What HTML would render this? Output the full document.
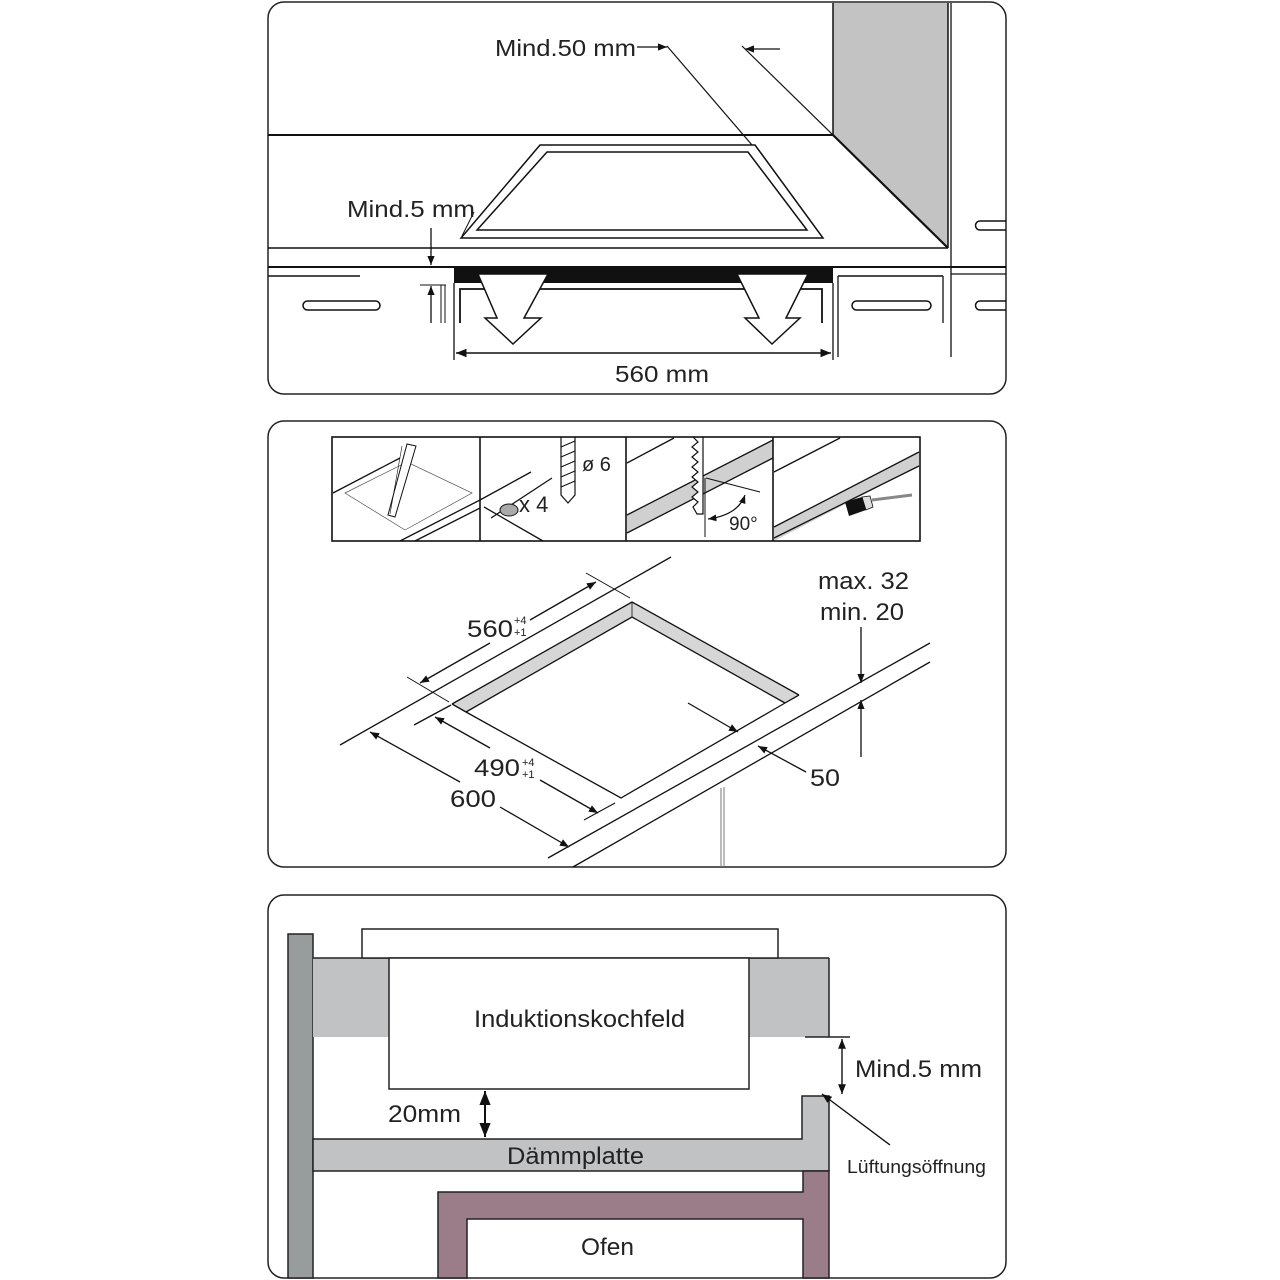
<!DOCTYPE html>
<html><head><meta charset="utf-8"><style>
html,body{margin:0;padding:0;background:#fff;}
svg{display:block;}
text{font-family:"Liberation Sans",sans-serif;fill:#222;}
</style></head><body>
<svg width="1280" height="1280" viewBox="0 0 1280 1280" xmlns="http://www.w3.org/2000/svg">
<defs>
<marker id="a" viewBox="0 0 10 10" refX="10" refY="5" markerWidth="7" markerHeight="7" orient="auto-start-reverse"><path d="M0,1 L10,5 L0,9 z" fill="#111"/></marker>
</defs>
<g fill="none" stroke="#222" stroke-width="1.5">
<rect x="268" y="2" width="738" height="392" rx="16"/>
<rect x="268" y="421" width="738" height="446" rx="16"/>
<rect x="268" y="895" width="738" height="383" rx="16"/>
</g>

<!-- ===== TOP PANEL ===== -->
<polygon points="833,3 948,3 948,248 833,135" fill="#c3c3c3"/>
<g stroke="#111" fill="none">
<line x1="268" y1="135" x2="833" y2="135" stroke-width="2"/>
<line x1="833" y1="3" x2="833" y2="135" stroke-width="1.5"/>
<line x1="833" y1="135" x2="948" y2="248" stroke-width="2.2"/>
<line x1="948" y1="3" x2="948" y2="248" stroke-width="1.5"/>
<line x1="951" y1="3" x2="951" y2="357" stroke-width="1.3"/>
<line x1="268" y1="248" x2="948" y2="248" stroke-width="1.5"/>
<line x1="268" y1="267" x2="1006" y2="267" stroke-width="2"/>
<line x1="951" y1="274" x2="1006" y2="274" stroke-width="1.3"/>
<polygon points="540,145 755,145 823,238 461,238" stroke-width="1.5"/>
<polygon points="547,152 748,152 807,230 477,230" stroke-width="1.5"/>
<line x1="667" y1="46" x2="752" y2="145" stroke-width="1.2"/>
<line x1="742" y1="46" x2="833" y2="135" stroke-width="1.2"/>
<line x1="637" y1="47" x2="667" y2="47" stroke-width="1.3" marker-end="url(#a)"/>
<line x1="780" y1="49" x2="745" y2="49" stroke-width="1.3" marker-end="url(#a)"/>
<line x1="474" y1="212" x2="462" y2="236" stroke-width="1"/>
<line x1="431" y1="228" x2="431" y2="265" stroke-width="1.3" marker-end="url(#a)"/>
<line x1="431" y1="323" x2="431" y2="286" stroke-width="1.3" marker-end="url(#a)"/>
<line x1="420" y1="285" x2="446" y2="285" stroke-width="1"/>
<line x1="441" y1="285" x2="441" y2="323" stroke-width="1"/>
<line x1="445" y1="285" x2="445" y2="323" stroke-width="1"/>
<line x1="268" y1="276" x2="360" y2="276" stroke-width="1.5"/>
<line x1="838" y1="276" x2="943" y2="276" stroke-width="1.5"/>
<line x1="838" y1="276" x2="838" y2="357" stroke-width="1.3"/>
<line x1="943" y1="276" x2="943" y2="323" stroke-width="1.3"/>
<line x1="454" y1="283" x2="454" y2="360" stroke-width="1.3"/>
<line x1="833" y1="283" x2="833" y2="360" stroke-width="1.3"/>
<polyline points="460,323 460,289 822,289 822,323" stroke-width="1.8"/>
<line x1="456" y1="353" x2="831" y2="353" stroke-width="1.5" marker-start="url(#a)" marker-end="url(#a)"/>
<rect x="303" y="301" width="77" height="9" rx="4.5" stroke-width="1.5"/>
<rect x="852" y="301" width="79" height="9" rx="4.5" stroke-width="1.5"/>
<path d="M1006,221 H980 a4.5,4.5 0 0 0 0,9 H1006" stroke-width="1.5"/>
<path d="M1006,301 H980 a4.5,4.5 0 0 0 0,9 H1006" stroke-width="1.5"/>
</g>
<rect x="454" y="267" width="379" height="16" fill="#111"/>
<g fill="#fff" stroke="#111" stroke-width="1.5" stroke-linejoin="miter">
<polygon points="478,274 548,274 524,318 541,318 513,344 485,318 497,318"/>
<polygon points="737,274 808,274 786,318 800,318 772,344 745,318 759,318"/>
</g>
<text x="495" y="56" font-size="23" textLength="141" lengthAdjust="spacingAndGlyphs">Mind.50 mm</text>
<text x="347" y="217" font-size="23" textLength="128" lengthAdjust="spacingAndGlyphs">Mind.5 mm</text>
<text x="615" y="382" font-size="23" textLength="94" lengthAdjust="spacingAndGlyphs">560 mm</text>

<!-- ===== MIDDLE PANEL ===== -->
<g stroke="#111" fill="none">
<polygon points="627,515 773,440 773,458 627,533" fill="#d0d0d0" stroke="none"/>
<line x1="627" y1="515" x2="773" y2="440" stroke-width="1.3"/>
<line x1="627" y1="533" x2="773" y2="458" stroke-width="1.3"/>
<line x1="627" y1="463" x2="674" y2="438" stroke-width="1.3"/>
<polygon points="774,527 919,452 919,466 774,541" fill="#d0d0d0" stroke="none"/>
<line x1="774" y1="527" x2="919" y2="452" stroke-width="1.3"/>
<line x1="774" y1="538" x2="919" y2="466" stroke-width="1.3"/>
<line x1="774" y1="472" x2="840" y2="438" stroke-width="1.3"/>
<line x1="333" y1="493" x2="400" y2="458" stroke-width="1.3"/>
<polygon points="345,493 407,462 472,493 405,530" stroke-width="0.7" stroke="#555"/>
<line x1="400" y1="541" x2="480" y2="500" stroke-width="1.3"/>
<line x1="415" y1="541" x2="480" y2="508" stroke-width="1.3"/>
<polygon points="388,515 407,444 416,446 395,517" fill="#fff" stroke-width="1"/>
<line x1="402" y1="446" x2="390" y2="514" stroke-width="0.6"/>
<line x1="480" y1="500" x2="531" y2="472" stroke-width="1.3"/>
<line x1="491" y1="518" x2="552" y2="478" stroke-width="1.3"/>
<line x1="484" y1="507" x2="543" y2="541" stroke-width="1.3"/>
<ellipse cx="509" cy="510" rx="9" ry="6" fill="#aaa" stroke-width="1"/>
<path d="M561,437 L561,495 L568,503 L575,495 L575,437" fill="#fff" stroke-width="1.2"/>
<path d="M561,447 L575,441 M561,457 L575,451 M561,467 L575,461 M561,477 L575,471 M561,487 L575,481" stroke-width="1"/>
<polyline points="693,437 698,442 692,447 698,452 692,457 698,462 692,467 698,472 692,477 698,482 692,487 698,492 692,497 698,502 693,507 697,514 703,514 703,437" fill="#fff" stroke-width="1.2"/>
<line x1="705" y1="478" x2="705" y2="537" stroke-width="1"/>
<polyline points="706,478 760,492" stroke-width="1"/>
<path d="M745,495 Q738,515 708,519" stroke-width="1.2" marker-start="url(#a)" marker-end="url(#a)"/>
<polygon points="845,502 862,497 866,510 849,516" fill="#111" stroke="none"/>
<polygon points="862,497 870,496 873,507 866,510" fill="#ddd" stroke-width="0.8"/>
<line x1="872" y1="500" x2="912" y2="495" stroke-width="3" stroke="#888"/>
<rect x="332" y="437" width="588" height="104" stroke-width="1.6"/>
<line x1="480" y1="437" x2="480" y2="541" stroke-width="1.6"/>
<line x1="626" y1="437" x2="626" y2="541" stroke-width="1.6"/>
<line x1="773" y1="437" x2="773" y2="541" stroke-width="1.6"/>
</g>
<text x="582" y="471" font-size="20">ø 6</text>
<text x="519" y="512" font-size="22">x 4</text>
<text x="729" y="530" font-size="19">90°</text>

<polygon points="452,704 632,602 799,695 785,703 632,617 466,712" fill="#d6d6d6"/>
<g stroke="#111" fill="none" stroke-width="1.3">
<line x1="340" y1="745" x2="671" y2="557"/>
<polyline points="452,704 632,602 799,695"/>
<polyline points="466,712 632,617 785,703"/>
<line x1="632" y1="602" x2="632" y2="617" stroke-width="0.8"/>
<polyline points="452,704 466,712 621,798 785,703 799,695"/>
<line x1="414" y1="725" x2="451" y2="705"/>
<line x1="548" y1="858" x2="930" y2="643"/>
<line x1="573" y1="867" x2="930" y2="662"/>
<line x1="407" y1="677" x2="449" y2="702" stroke-width="1"/>
<line x1="586" y1="573" x2="630" y2="598" stroke-width="1"/>
<line x1="584" y1="820" x2="615" y2="803" stroke-width="1"/>
<line x1="420" y1="683" x2="490" y2="643" marker-start="url(#a)"/>
<line x1="530" y1="620" x2="596" y2="582" marker-end="url(#a)"/>
<line x1="435" y1="717" x2="490" y2="748" marker-start="url(#a)"/>
<line x1="540" y1="780" x2="598" y2="813" marker-end="url(#a)"/>
<line x1="370" y1="732" x2="460" y2="782" marker-start="url(#a)"/>
<line x1="500" y1="807" x2="569" y2="847" marker-end="url(#a)"/>
<line x1="688" y1="703" x2="738" y2="732" marker-end="url(#a)"/>
<line x1="806" y1="772" x2="758" y2="746" marker-end="url(#a)"/>
<line x1="861" y1="627" x2="861" y2="683" marker-end="url(#a)"/>
<line x1="861" y1="757" x2="861" y2="700" marker-end="url(#a)"/>
<line x1="721" y1="788" x2="721" y2="867" stroke-width="1" stroke="#777"/>
<line x1="724" y1="787" x2="724" y2="867" stroke-width="1" stroke="#777"/>
</g>
<text x="467" y="637" font-size="24" textLength="46" lengthAdjust="spacingAndGlyphs">560</text>
<text x="514" y="624" font-size="11">+4</text>
<text x="514" y="636" font-size="11">+1</text>
<text x="474" y="776" font-size="24" textLength="46" lengthAdjust="spacingAndGlyphs">490</text>
<text x="522" y="766" font-size="11">+4</text>
<text x="522" y="778" font-size="11">+1</text>
<text x="450" y="807" font-size="24" textLength="46" lengthAdjust="spacingAndGlyphs">600</text>
<text x="810" y="786" font-size="24" textLength="30" lengthAdjust="spacingAndGlyphs">50</text>
<text x="818" y="589" font-size="24" textLength="91" lengthAdjust="spacingAndGlyphs">max. 32</text>
<text x="820" y="620" font-size="24" textLength="84" lengthAdjust="spacingAndGlyphs">min. 20</text>

<!-- ===== BOTTOM PANEL ===== -->
<g stroke="#222" stroke-width="1.5">
<rect x="288" y="934" width="25" height="344" fill="#979d9d"/>
<rect x="313" y="958" width="76" height="79" fill="#c0c2c4" stroke="none"/>
<rect x="749" y="958" width="80" height="79" fill="#c0c2c4" stroke="none"/>
<line x1="313" y1="958" x2="829" y2="958"/>
<line x1="829" y1="958" x2="829" y2="1037"/>
<rect x="362" y="929" width="416" height="29" fill="#fff"/>
<rect x="389" y="958" width="360" height="131" fill="#fff"/>
<polygon points="313,1139 802,1139 802,1096 829,1096 829,1171 313,1171" fill="#c0c2c4"/>
<polygon points="438,1278 438,1192 803,1192 803,1171 829,1171 829,1278 803,1278 803,1219 467,1219 467,1278" fill="#9b7c89"/>
<line x1="805" y1="1037" x2="850" y2="1037"/>
</g>
<g stroke="#111" stroke-width="1.4" fill="none">
<line x1="485" y1="1091" x2="485" y2="1137" marker-start="url(#a)" marker-end="url(#a)" stroke-width="2"/>
<line x1="842" y1="1039" x2="842" y2="1094" marker-start="url(#a)" marker-end="url(#a)"/>
<line x1="890" y1="1145" x2="822" y2="1094" marker-end="url(#a)"/>
</g>
<text x="474" y="1027" font-size="24" textLength="211" lengthAdjust="spacingAndGlyphs">Induktionskochfeld</text>
<text x="388" y="1122" font-size="24" textLength="73" lengthAdjust="spacingAndGlyphs">20mm</text>
<text x="507" y="1164" font-size="24" textLength="137" lengthAdjust="spacingAndGlyphs">Dämmplatte</text>
<text x="581" y="1255" font-size="24" textLength="53" lengthAdjust="spacingAndGlyphs">Ofen</text>
<text x="855" y="1077" font-size="24" textLength="127" lengthAdjust="spacingAndGlyphs">Mind.5 mm</text>
<text x="847" y="1173" font-size="18" textLength="139" lengthAdjust="spacingAndGlyphs">Lüftungsöffnung</text>
</svg>
</body></html>
